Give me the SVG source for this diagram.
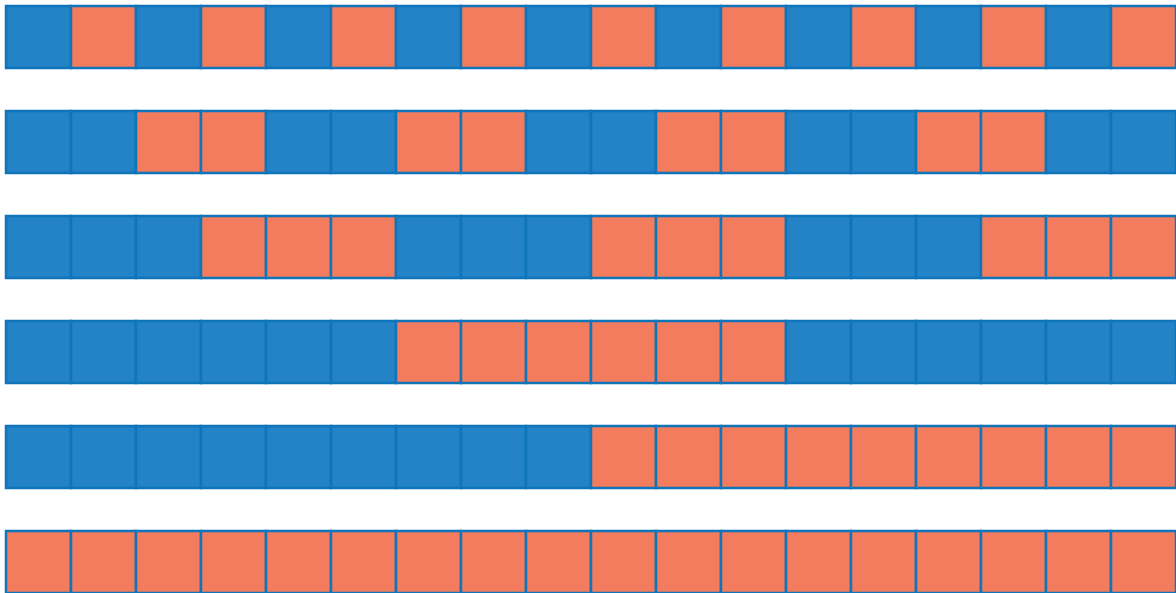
<svg xmlns="http://www.w3.org/2000/svg" width="1176" height="593" viewBox="0 0 1176 593">
<style>
rect{stroke:#0f74ba;stroke-width:2.5}
.b{fill:#2383c6}
.o{fill:#f37c5e}
</style>
<rect x="0" y="0" width="1176" height="593" fill="#fff" style="stroke:none"/>
<g id="row1">
<rect class="b" x="6" y="6" width="65" height="62"/><rect class="o" x="71" y="6" width="65" height="62"/><rect class="b" x="136" y="6" width="65" height="62"/><rect class="o" x="201" y="6" width="65" height="62"/><rect class="b" x="266" y="6" width="65" height="62"/><rect class="o" x="331" y="6" width="65" height="62"/><rect class="b" x="396" y="6" width="65" height="62"/><rect class="o" x="461" y="6" width="65" height="62"/><rect class="b" x="526" y="6" width="65" height="62"/><rect class="o" x="591" y="6" width="65" height="62"/><rect class="b" x="656" y="6" width="65" height="62"/><rect class="o" x="721" y="6" width="65" height="62"/><rect class="b" x="786" y="6" width="65" height="62"/><rect class="o" x="851" y="6" width="65" height="62"/><rect class="b" x="916" y="6" width="65" height="62"/><rect class="o" x="981" y="6" width="65" height="62"/><rect class="b" x="1046" y="6" width="65" height="62"/><rect class="o" x="1111" y="6" width="65" height="62"/>
</g>
<g id="row2">
<rect class="b" x="6" y="111" width="65" height="62"/><rect class="b" x="71" y="111" width="65" height="62"/><rect class="o" x="136" y="111" width="65" height="62"/><rect class="o" x="201" y="111" width="65" height="62"/><rect class="b" x="266" y="111" width="65" height="62"/><rect class="b" x="331" y="111" width="65" height="62"/><rect class="o" x="396" y="111" width="65" height="62"/><rect class="o" x="461" y="111" width="65" height="62"/><rect class="b" x="526" y="111" width="65" height="62"/><rect class="b" x="591" y="111" width="65" height="62"/><rect class="o" x="656" y="111" width="65" height="62"/><rect class="o" x="721" y="111" width="65" height="62"/><rect class="b" x="786" y="111" width="65" height="62"/><rect class="b" x="851" y="111" width="65" height="62"/><rect class="o" x="916" y="111" width="65" height="62"/><rect class="o" x="981" y="111" width="65" height="62"/><rect class="b" x="1046" y="111" width="65" height="62"/><rect class="b" x="1111" y="111" width="65" height="62"/>
</g>
<g id="row3">
<rect class="b" x="6" y="216" width="65" height="62"/><rect class="b" x="71" y="216" width="65" height="62"/><rect class="b" x="136" y="216" width="65" height="62"/><rect class="o" x="201" y="216" width="65" height="62"/><rect class="o" x="266" y="216" width="65" height="62"/><rect class="o" x="331" y="216" width="65" height="62"/><rect class="b" x="396" y="216" width="65" height="62"/><rect class="b" x="461" y="216" width="65" height="62"/><rect class="b" x="526" y="216" width="65" height="62"/><rect class="o" x="591" y="216" width="65" height="62"/><rect class="o" x="656" y="216" width="65" height="62"/><rect class="o" x="721" y="216" width="65" height="62"/><rect class="b" x="786" y="216" width="65" height="62"/><rect class="b" x="851" y="216" width="65" height="62"/><rect class="b" x="916" y="216" width="65" height="62"/><rect class="o" x="981" y="216" width="65" height="62"/><rect class="o" x="1046" y="216" width="65" height="62"/><rect class="o" x="1111" y="216" width="65" height="62"/>
</g>
<g id="row4">
<rect class="b" x="6" y="321" width="65" height="62"/><rect class="b" x="71" y="321" width="65" height="62"/><rect class="b" x="136" y="321" width="65" height="62"/><rect class="b" x="201" y="321" width="65" height="62"/><rect class="b" x="266" y="321" width="65" height="62"/><rect class="b" x="331" y="321" width="65" height="62"/><rect class="o" x="396" y="321" width="65" height="62"/><rect class="o" x="461" y="321" width="65" height="62"/><rect class="o" x="526" y="321" width="65" height="62"/><rect class="o" x="591" y="321" width="65" height="62"/><rect class="o" x="656" y="321" width="65" height="62"/><rect class="o" x="721" y="321" width="65" height="62"/><rect class="b" x="786" y="321" width="65" height="62"/><rect class="b" x="851" y="321" width="65" height="62"/><rect class="b" x="916" y="321" width="65" height="62"/><rect class="b" x="981" y="321" width="65" height="62"/><rect class="b" x="1046" y="321" width="65" height="62"/><rect class="b" x="1111" y="321" width="65" height="62"/>
</g>
<g id="row5">
<rect class="b" x="6" y="426" width="65" height="62"/><rect class="b" x="71" y="426" width="65" height="62"/><rect class="b" x="136" y="426" width="65" height="62"/><rect class="b" x="201" y="426" width="65" height="62"/><rect class="b" x="266" y="426" width="65" height="62"/><rect class="b" x="331" y="426" width="65" height="62"/><rect class="b" x="396" y="426" width="65" height="62"/><rect class="b" x="461" y="426" width="65" height="62"/><rect class="b" x="526" y="426" width="65" height="62"/><rect class="o" x="591" y="426" width="65" height="62"/><rect class="o" x="656" y="426" width="65" height="62"/><rect class="o" x="721" y="426" width="65" height="62"/><rect class="o" x="786" y="426" width="65" height="62"/><rect class="o" x="851" y="426" width="65" height="62"/><rect class="o" x="916" y="426" width="65" height="62"/><rect class="o" x="981" y="426" width="65" height="62"/><rect class="o" x="1046" y="426" width="65" height="62"/><rect class="o" x="1111" y="426" width="65" height="62"/>
</g>
<g id="row6">
<rect class="o" x="6" y="531" width="65" height="62"/><rect class="o" x="71" y="531" width="65" height="62"/><rect class="o" x="136" y="531" width="65" height="62"/><rect class="o" x="201" y="531" width="65" height="62"/><rect class="o" x="266" y="531" width="65" height="62"/><rect class="o" x="331" y="531" width="65" height="62"/><rect class="o" x="396" y="531" width="65" height="62"/><rect class="o" x="461" y="531" width="65" height="62"/><rect class="o" x="526" y="531" width="65" height="62"/><rect class="o" x="591" y="531" width="65" height="62"/><rect class="o" x="656" y="531" width="65" height="62"/><rect class="o" x="721" y="531" width="65" height="62"/><rect class="o" x="786" y="531" width="65" height="62"/><rect class="o" x="851" y="531" width="65" height="62"/><rect class="o" x="916" y="531" width="65" height="62"/><rect class="o" x="981" y="531" width="65" height="62"/><rect class="o" x="1046" y="531" width="65" height="62"/><rect class="o" x="1111" y="531" width="65" height="62"/>
</g>
</svg>
